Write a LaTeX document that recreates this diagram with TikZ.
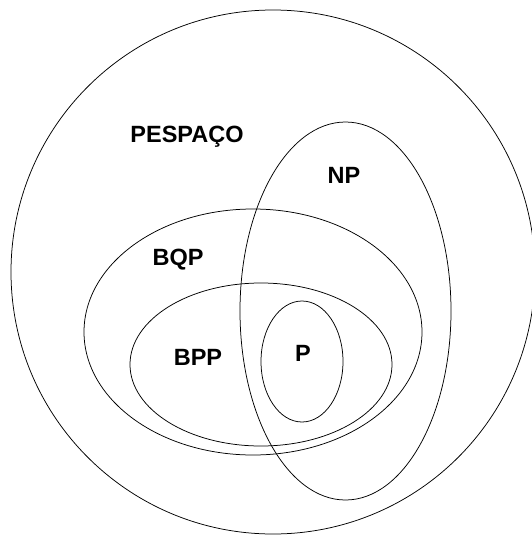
\documentclass[tikz,border=0pt]{standalone}
\usepackage{fontspec}
\setmainfont{Liberation Sans}
\usetikzlibrary{positioning}

\begin{document}
\begin{tikzpicture}[
  x=1pt, y=-1pt,
  set/.style={draw=black, line width=0.75pt},
  lbl/.style={font=\fontsize{23.5}{28}\selectfont\bfseries, inner sep=0pt}
]
\useasboundingbox (0,0) rectangle (531,536);
% classes
\draw[set] (273,272) circle[radius=262];
\draw[set] (345.5,311) ellipse[x radius=105.5, y radius=189];
\draw[set] (253,332) ellipse[x radius=169, y radius=123];
\draw[set] (261,364.5) ellipse[x radius=131, y radius=81.5];
\draw[set] (302,361.5) ellipse[x radius=41, y radius=60.5];
% names
\node[lbl] (pspace) at (187,136.5) {PESPAÇO};
\node[lbl] (np)     at (344,175.5) {NP};
\node[lbl] (bqp)    at (178,259.5) {BQP};
\node[lbl] (bpp)    at (198,357) {BPP};
\node[lbl] (p)      at (303,353.5) {P};
\end{tikzpicture}
\end{document}
